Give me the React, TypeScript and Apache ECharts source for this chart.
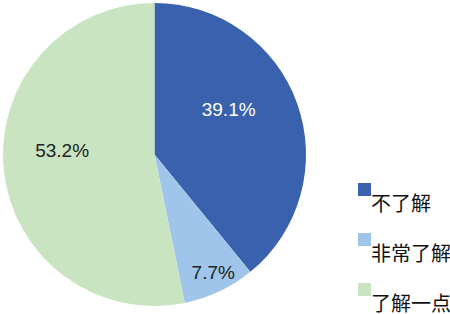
import React, { useEffect, useRef } from "react";
import * as echarts from "echarts";

const categories = ["不了解", "非常了解", "了解一点"];
const values = [39.1, 7.7, 53.2];
const colors = ["#3a61ad", "#9fc6ea", "#c9e4c1"];
const labelColors = ["#ffffff", "#222222", "#222222"];
const labelOffsets = [[0, -19], [25, 47], [-14, -12]];

export default function App() {
  const ref = useRef<HTMLDivElement>(null);
  useEffect(() => {
    const chart = echarts.init(ref.current!, null, { renderer: "svg" });
    chart.setOption({
      animation: false,
      backgroundColor: "#ffffff",
      legend: {
        orient: "vertical",
        left: 353,
        top: 159.5,
        height: 400,
        icon: "rect",
        itemWidth: 13,
        itemHeight: 13,
        itemGap: 0,
        itemStyle: { borderWidth: 0 },
        formatter: (name: string) => "\n" + name,
        textStyle: {
          fontFamily: "Noto Sans CJK SC",
          fontSize: 20,
          lineHeight: 25,
          color: "#111111",
          padding: [0, 0, 0, -5],
        },
        data: categories,
      },
      series: [
        {
          type: "pie",
          center: [154.5, 154.5],
          radius: [0, 151.5],
          startAngle: 90,
          clockwise: true,
          avoidLabelOverlap: false,
          itemStyle: { borderWidth: 0 },
          emphasis: { disabled: true },
          label: {
            show: true,
            position: "inside",
            formatter: (p: any) => p.value.toFixed(1) + "%",
            fontFamily: "Liberation Sans, Arial, sans-serif",
            fontSize: 19,
          },
          labelLine: { show: false },
          data: categories.map((name, i) => ({
            name,
            value: values[i],
            itemStyle: { color: colors[i] },
            label: { color: labelColors[i], offset: labelOffsets[i] },
          })),
        },
      ],
    });
    return () => chart.dispose();
  }, []);
  return (
    <div
      ref={ref}
      style={{ position: "fixed", left: 0, top: 0, width: 450, height: 314 }}
    />
  );
}
